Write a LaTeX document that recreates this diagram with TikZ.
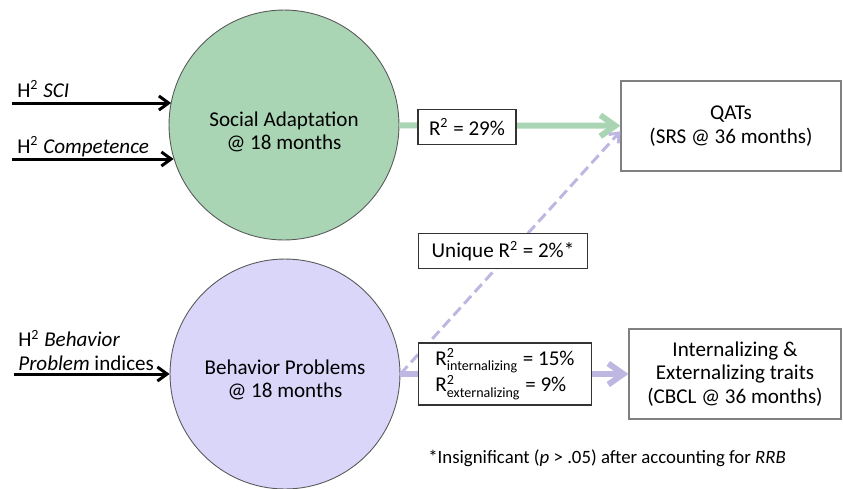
\documentclass[tikz,border=0pt]{standalone}
\usepackage{fontspec}
\usepackage{amsmath}
\setmainfont{Carlito}
\usetikzlibrary{arrows.meta}

\definecolor{sagreen}{HTML}{A9D5B5}
\definecolor{bplilac}{HTML}{DAD6FA}
\definecolor{bpline}{HTML}{BDB7E2}

\begin{document}
\begin{tikzpicture}[x=0.02cm, y=-0.02cm,
    font=\fontsize{12}{13.5}\selectfont,
    latent/.style={circle, draw=black!65, line width=0.5pt, minimum size=4.6cm, inner sep=0pt, align=center},
    outcome/.style={draw=black!50, line width=0.7pt, minimum height=1.8cm, align=center},
    stat/.style={draw=black!80, fill=white, line width=0.6pt, align=left, inner sep=2pt},
    input/.style={line width=1.7pt, -{Straight Barb[length=5.5pt,width=8pt]}},
    effect/.style={line width=3.4pt, -{Straight Barb[length=8.5pt,width=12pt]}}]
  \useasboundingbox (0,0) rectangle (843,488);

  % latent factors at 18 months
  \node[latent, fill=sagreen] (social) at (284,125) {\rule{0pt}{16pt}Social Adaptation\\@ 18 months};
  \node[latent, fill=bplilac] (behav) at (285,374) {\rule{0pt}{15pt}Behavior Problems\\@ 18 months};

  % outcomes at 36 months
  \node[outcome, minimum width=4.4cm] (qats) at (731,126) {QATs\\(SRS @ 36 months)};
  \node[outcome, minimum width=4.24cm] (traits) at (735,374) {Internalizing \&\\Externalizing traits\\(CBCL @ 36 months)};

  % heritability inputs
  \coordinate (sciin) at (12,103);
  \coordinate (compin) at (12,159);
  \coordinate (bpin) at (14,374);
  \node[anchor=base west, inner sep=0pt] (scilbl) at (17,97) {H\textsuperscript{2} \textit{SCI}};
  \node[anchor=base west, inner sep=0pt] (complbl) at (17,153) {H\textsuperscript{2} \textit{Competence}};
  \node[anchor=south west, inner sep=0pt, align=left] (bplbl) at (18,371) {H\textsuperscript{2} \textit{Behavior}\\\textit{Problem} indices};
  \draw[input] (sciin) -- (sciin -| social.168);
  \draw[input] (compin) -- (compin -| social.197);
  \draw[input] (bpin) -- (behav.west);

  % paths
  \draw[effect, draw=sagreen] (social) -- (qats);
  \draw[effect, draw=bpline] (behav) -- (traits);
  \draw[bpline, line width=1.7pt, dash pattern=on 6pt off 3pt, -{Straight Barb[length=4.5pt,width=7.5pt]}] (behav.east) -- ([yshift=-3pt]qats.west);

  % variance explained
  \node[stat, minimum width=1.96cm, minimum height=0.7cm] (r2sa) at (467,127) {R\textsuperscript{2} = 29\%};
  \node[stat, minimum width=3.38cm, minimum height=0.7cm] (r2unique) at (503,251) {Unique R\textsuperscript{2} = 2\%*};
  \node[stat, minimum width=3.46cm, minimum height=1.24cm] (r2bp) at (505,374) {R$^{\text{2}}_{\text{internalizing}}$ = 15\%\\R$^{\text{2}}_{\text{externalizing}}$ = 9\%};

  \node[anchor=base west, inner sep=0pt, font=\fontsize{10.7}{13}\selectfont] (note) at (428,463) {*Insignificant (\textit{p} > .05) after accounting for \textit{RRB}};
\end{tikzpicture}
\end{document}
